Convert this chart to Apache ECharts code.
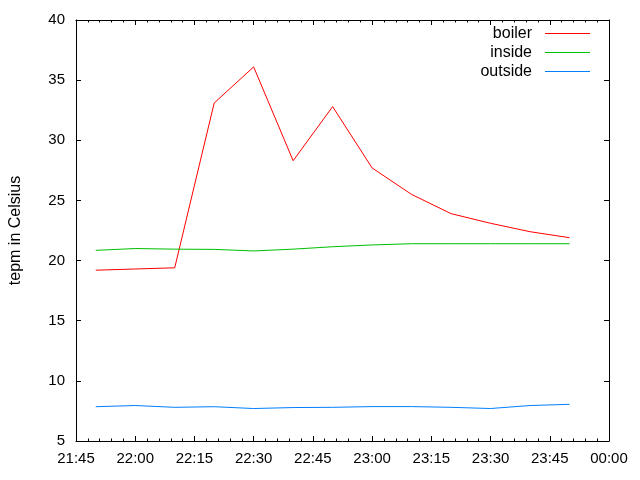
<!DOCTYPE html>
<html>
<head>
<meta charset="utf-8">
<script src="https://cdn.jsdelivr.net/npm/echarts@6/dist/echarts.min.js"></script>
<style>html,body{margin:0;padding:0;background:#fff;}#c{width:640px;height:480px;}</style>
</head>
<body>
<div id="c"></div>
<script>
const times = ['21:50','22:00','22:10','22:20','22:30','22:40','22:50','23:00','23:10','23:20','23:30','23:40','23:50'];
const boiler = [19.2, 19.3, 19.4, 33.1, 36.1, 28.3, 32.8, 27.7, 25.5, 23.9, 23.1, 22.4, 21.9];
const inside = [20.85, 21.0, 20.95, 20.93, 20.8, 20.95, 21.15, 21.3, 21.4, 21.4, 21.4, 21.4, 21.4];
const outside = [7.85, 7.95, 7.8, 7.85, 7.7, 7.78, 7.8, 7.86, 7.86, 7.8, 7.7, 7.95, 8.05];
const xMin = '21:45', xMax = '00:00';
const yTicks = [5, 10, 15, 20, 25, 30, 35, 40];

function toMin(t) {
  const p = t.split(':');
  let h = +p[0];
  if (h < 12) h += 24;
  return h * 60 + (+p[1]);
}
function fmt(v) {
  let h = Math.floor(v / 60) % 24, m = Math.round(v % 60);
  return String(h).padStart(2, '0') + ':' + String(m).padStart(2, '0');
}
function pairs(vals) { return times.map((t, i) => [toMin(t), vals[i]]); }

const FONT = 'Liberation Sans';
const FS = 15;
const xCommon = {
  type: 'value', min: toMin(xMin), max: toMin(xMax), interval: 15,
  axisLine: { show: true, onZero: false, lineStyle: { color: '#000', width: 1 } },
  axisTick: { show: true, inside: true, length: 5, lineStyle: { color: '#000' } },
  minorTick: { show: true, splitNumber: 5, length: 2.5, lineStyle: { color: '#000' } },
  splitLine: { show: false }, minorSplitLine: { show: false }
};
const yCommon = {
  type: 'value', min: yTicks[0], max: yTicks[yTicks.length - 1], interval: 5,
  axisLine: { show: true, onZero: false, lineStyle: { color: '#000', width: 1 } },
  axisTick: { show: true, inside: true, length: 5, lineStyle: { color: '#000' } },
  splitLine: { show: false }
};

const chart = echarts.init(document.getElementById('c'), null, { renderer: 'canvas' });
chart.setOption({
  animation: false,
  backgroundColor: '#fff',
  textStyle: { fontFamily: FONT },
  grid: { left: 74, right: 31, top: 20, bottom: 39, containLabel: false },
  xAxis: [
    Object.assign({}, xCommon, { position: 'bottom',
      axisLabel: { show: true, margin: 10, color: '#000', fontSize: FS, fontFamily: FONT, formatter: fmt } }),
    Object.assign({}, xCommon, { position: 'top', axisLabel: { show: false } })
  ],
  yAxis: [
    Object.assign({}, yCommon, { position: 'left',
      name: 'tepm in Celsius', nameLocation: 'middle', nameRotate: 90, nameGap: 52,
      nameTextStyle: { color: '#000', fontSize: 16, fontFamily: FONT },
      axisLabel: { show: true, margin: 11, color: '#000', fontSize: FS, fontFamily: FONT } }),
    Object.assign({}, yCommon, { position: 'right', axisLabel: { show: false } })
  ],
  legend: {
    orient: 'vertical', right: 45, top: 19, align: 'right',
    itemWidth: 45, itemHeight: 1, itemGap: 0, icon: 'rect',
    textStyle: { color: '#000', fontSize: 16, fontFamily: FONT, width: 66, align: 'right', lineHeight: 19, padding: [0, 8, 0, 0] },
    data: ['boiler', 'inside', 'outside']
  },
  series: [
    { name: 'boiler', type: 'line', data: pairs(boiler), showSymbol: false, symbol: 'none',
      lineStyle: { color: '#ff0000', width: 1 }, itemStyle: { color: '#ff0000' } },
    { name: 'inside', type: 'line', data: pairs(inside), showSymbol: false, symbol: 'none',
      lineStyle: { color: '#00c000', width: 1 }, itemStyle: { color: '#00c000' } },
    { name: 'outside', type: 'line', data: pairs(outside), showSymbol: false, symbol: 'none',
      lineStyle: { color: '#0080ff', width: 1 }, itemStyle: { color: '#0080ff' } }
  ]
});
</script>
</body>
</html>
